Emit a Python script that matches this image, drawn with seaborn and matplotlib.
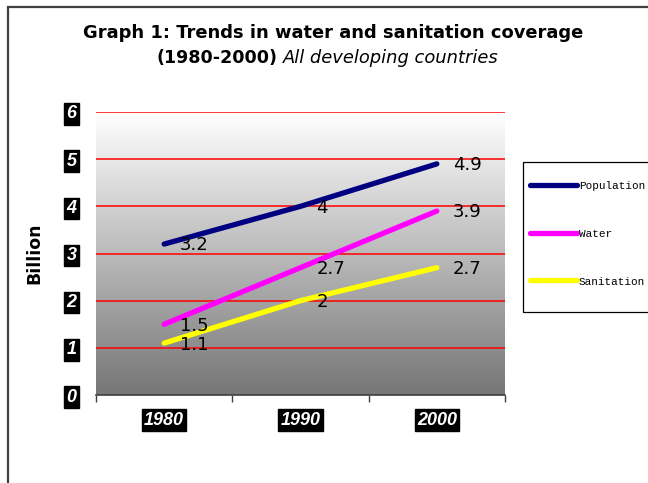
import numpy as np
import pandas as pd
import matplotlib
matplotlib.use('Agg')
import matplotlib.pyplot as plt
from matplotlib.colors import LinearSegmentedColormap
from matplotlib.patches import Rectangle
from matplotlib.ticker import FixedLocator
import seaborn as sns

YEARS = ['1980', '1990', '2000']
POPULATION = [3.2, 4.0, 4.9]
WATER = [1.5, 2.7, 3.9]
SANITATION = [1.1, 2.0, 2.7]
SERIES = ['Population', 'Water', 'Sanitation']
COLORS = ['#000080', '#ff00ff', '#ffff00']
LABELS = {'Population': ['3.2', '4', '4.9'],
          'Water': ['1.5', '2.7', '3.9'],
          'Sanitation': ['1.1', '2', '2.7']}


def main():
    rows = []
    for name, vals in zip(SERIES, [POPULATION, WATER, SANITATION]):
        for i, (yr, v) in enumerate(zip(YEARS, vals)):
            rows.append({'pos': i, 'Year': yr, 'Billion': v, 'Series': name})
    data = pd.DataFrame(rows)

    sns.set_style('white')
    plt.rcParams['font.family'] = ['DejaVu Sans']
    plt.rcParams['text.color'] = 'black'
    plt.rcParams['axes.labelcolor'] = 'black'

    fig = plt.figure(figsize=(6.48, 4.83), dpi=100)
    ax = fig.add_axes([96 / 648, 1 - 395 / 483, 409 / 648, 283 / 483])

    # gradient background
    cmap = LinearSegmentedColormap.from_list('bg', ['#767676', '#ffffff'])
    grad = np.linspace(1, 0, 256)[:, None]
    ax.imshow(grad, cmap=cmap, aspect='auto', extent=(-0.5, 2.5, 0, 6),
              zorder=0, vmin=0, vmax=1)

    for y in range(1, 7):
        ax.axhline(y, color='#ff0000', lw=1.1, zorder=1)

    sns.lineplot(data=data, x='pos', y='Billion', hue='Series', hue_order=SERIES,
                 palette=COLORS, linewidth=3.8, solid_capstyle='round', ax=ax,
                 zorder=3)

    for name in SERIES:
        sub = data[data.Series == name]
        for (_, r), lab in zip(sub.iterrows(), LABELS[name]):
            ax.annotate(lab, (r.pos, r.Billion), xytext=(11.5, -1),
                        textcoords='offset points', va='center', ha='left',
                        fontsize=13, color='black', zorder=4)

    ax.set_xlim(-0.5, 2.5)
    ax.set_ylim(0, 6)
    ax.set_xticks(range(len(YEARS)))
    ax.set_xticklabels(YEARS)
    ax.xaxis.set_minor_locator(FixedLocator([-0.5, 0.5, 1.5, 2.5]))
    ax.tick_params(axis='x', which='major', length=0, pad=12)
    ax.tick_params(axis='x', which='minor', length=5, width=1, color='#404040',
                   direction='out', bottom=True)
    ax.set_yticks(range(0, 7))
    ax.tick_params(axis='y', length=0, pad=14)
    for lbl in ax.get_xticklabels() + ax.get_yticklabels():
        lbl.set_color('white')
        lbl.set_family('Liberation Sans')
        lbl.set_fontweight('bold')
        lbl.set_fontstyle('italic')
        lbl.set_fontsize(13)
        lbl.set_bbox(dict(facecolor='black', edgecolor='black', pad=1.5))

    for s in ['left', 'top', 'right']:
        ax.spines[s].set_visible(False)
    ax.spines['bottom'].set_color('#404040')
    ax.spines['bottom'].set_linewidth(1.2)

    ax.set_xlabel('')
    ax.set_ylabel('Billion', fontsize=12.5, fontweight='bold', labelpad=17)

    handles, labels = ax.get_legend_handles_labels()
    ax.get_legend().remove()
    leg = fig.legend(handles, labels, loc='upper left',
                     bbox_to_anchor=(528 / 648, 1 - 178 / 483),
                     bbox_transform=fig.transFigure, borderaxespad=0,
                     prop={'family': 'Liberation Mono', 'size': 7.9},
                     frameon=False, handlelength=4.3, handletextpad=0.15,
                     handleheight=1.0, labelspacing=3.4, borderpad=0.2)
    for t in leg.get_texts():
        t.set_color('black')
    fig.patches.append(Rectangle((523 / 648, 1 - 312 / 483), 0.3, 150 / 483,
                                 transform=fig.transFigure, fill=False,
                                 edgecolor='black', lw=0.9))

    # title
    fig.text(333 / 648, 1 - 33 / 483, 'Graph 1: Trends in water and sanitation coverage',
             ha='center', va='center', fontsize=12.9, fontweight='bold')
    fig.text(277 / 648, 1 - 58 / 483, '(1980-2000)', ha='right', va='center',
             fontsize=12.6, fontweight='bold')
    fig.text(283 / 648, 1 - 58 / 483, 'All developing countries', ha='left',
             va='center', fontsize=12.9, fontstyle='italic')

    # outer frame
    fig.patches.append(Rectangle((8 / 648, -0.2), 1.2, 1.2 - 7 / 483,
                                 transform=fig.transFigure, fill=False,
                                 edgecolor='#404040', lw=1.6))

    fig.savefig('out.png', dpi=100, facecolor='white')


if __name__ == '__main__':
    main()
